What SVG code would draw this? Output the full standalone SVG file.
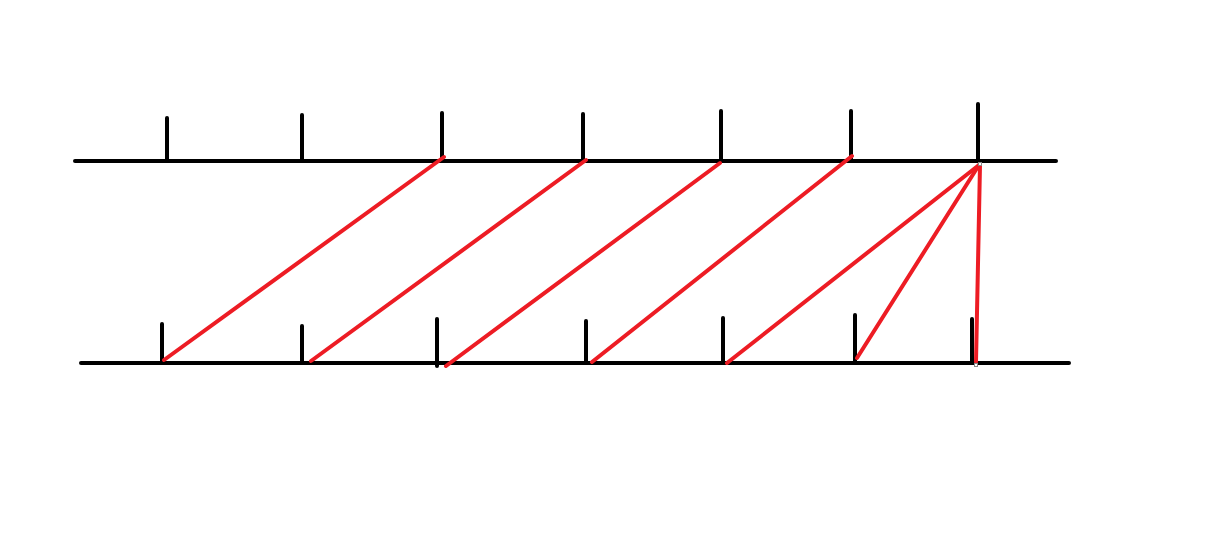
<svg xmlns="http://www.w3.org/2000/svg" width="1222" height="539" viewBox="0 0 1222 539">
<style>
.k{stroke:#000;stroke-width:4;stroke-linecap:round;fill:none}
.r{stroke:#ED1C24;stroke-width:4;stroke-linecap:round;fill:none}
.m{fill:#fff;stroke:#888;stroke-width:1}
</style>
<rect width="1222" height="539" fill="#fff"/>
<g id="top-axis">
<line class="k" x1="75" y1="161" x2="1056" y2="161"/>
<line class="k" x1="167" y1="118" x2="167" y2="161"/>
<line class="k" x1="302" y1="115" x2="302" y2="161"/>
<line class="k" x1="442" y1="113" x2="442" y2="161"/>
<line class="k" x1="583" y1="114" x2="583" y2="161"/>
<line class="k" x1="721" y1="111" x2="721" y2="161"/>
<line class="k" x1="851" y1="111" x2="851" y2="161"/>
<line class="k" x1="978" y1="104" x2="978" y2="161"/>
</g>
<g id="bottom-axis">
<line class="k" x1="81" y1="363" x2="1069" y2="363"/>
<line class="k" x1="162" y1="324" x2="162" y2="363"/>
<line class="k" x1="302" y1="326" x2="302" y2="363"/>
<line class="k" x1="437" y1="319" x2="437" y2="366"/>
<line class="k" x1="586" y1="321" x2="586" y2="363"/>
<line class="k" x1="723" y1="318" x2="723" y2="363"/>
<line class="k" x1="855" y1="315" x2="855" y2="363"/>
<line class="k" x1="972" y1="319" x2="972" y2="363"/>
</g>
<g id="connectors">
<line class="r" x1="164" y1="360" x2="444" y2="157"/>
<line class="r" x1="311" y1="361" x2="586" y2="160"/>
<line class="r" x1="446" y1="366" x2="720" y2="163"/>
<line class="r" x1="592" y1="362" x2="852" y2="156"/>
<line class="r" x1="727" y1="363" x2="979" y2="165"/>
<line class="r" x1="857" y1="358" x2="979" y2="165"/>
<line class="r" x1="976" y1="362" x2="980" y2="165"/>
</g>
<rect class="m" x="978.5" y="162.5" width="3" height="3"/>
<rect class="m" x="974.5" y="363.5" width="3" height="3"/>
</svg>
